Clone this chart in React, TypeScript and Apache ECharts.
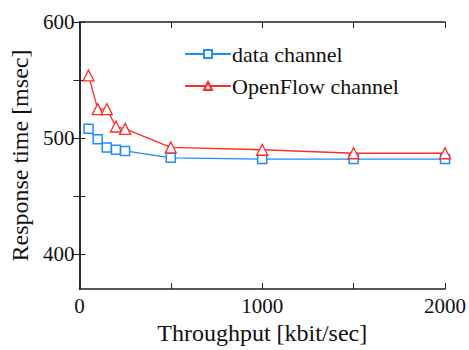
import React, { useEffect, useRef } from "react";
import * as echarts from "echarts";

const throughput = [50, 100, 150, 200, 250, 500, 1000, 1500, 2000];
const dataChannel = [508, 499, 492, 490, 489, 483, 482, 482, 482];
const openflowChannel = [554, 525, 525, 510, 508, 492, 490, 487, 487];
const xTickValues = [0, 500, 1000, 1500, 2000];
const xLabelValues = [0, 1000, 2000];
const yTickValues = [400, 450, 500, 550, 600];
const yLabelValues = [400, 500, 600];

const FONT = "Liberation Serif, Times New Roman, serif";
const AXIS_COLOR = "#222";

export default function App() {
  const ref = useRef<HTMLDivElement>(null);
  useEffect(() => {
    if (!ref.current) return;
    const chart = echarts.init(ref.current, undefined, { renderer: "svg" });
    const axisLine = { show: true, lineStyle: { color: AXIS_COLOR, width: 1.5 } };
    chart.setOption({
      animation: false,
      backgroundColor: "#fff",
      textStyle: { fontFamily: FONT },
      grid: { left: 73, right: 22, top: 22, bottom: 59, containLabel: false },
      legend: {
        orient: "vertical",
        left: 179,
        top: 38,
        itemWidth: 46,
        itemHeight: 10,
        itemGap: 10,
        textStyle: { fontFamily: FONT, fontSize: 22, color: "#111", padding: [0, 0, 0, -4] },
        data: ["data channel", "OpenFlow channel"],
      },
      xAxis: [
        {
          type: "value",
          min: 0,
          max: 2000,
          interval: 500,
          name: "Throughput [kbit/sec]",
          nameLocation: "middle",
          nameGap: 30,
          nameTextStyle: { fontFamily: FONT, fontSize: 24, color: "#111" },
          axisLine,
          splitLine: { show: false },
          axisTick: { show: true, inside: true, length: 6, customValues: xTickValues, lineStyle: { color: AXIS_COLOR } },
          axisLabel: {
            customValues: xLabelValues,
            formatter: (v: number) => String(v),
            fontFamily: FONT,
            fontSize: 21,
            color: "#111",
            margin: 6,
          },
        },
        {
          type: "value",
          position: "top",
          min: 0,
          max: 2000,
          interval: 500,
          axisLine,
          splitLine: { show: false },
          axisTick: { show: true, inside: true, length: 6, lineStyle: { color: AXIS_COLOR } },
          axisLabel: { show: false },
        },
      ],
      yAxis: [
        {
          type: "value",
          min: 370,
          max: 600,
          name: "Response time [msec]",
          nameLocation: "middle",
          nameGap: 42,
          nameTextStyle: { fontFamily: FONT, fontSize: 24, color: "#111" },
          axisLine,
          splitLine: { show: false },
          axisTick: { show: true, inside: true, length: 6, customValues: yTickValues, lineStyle: { color: AXIS_COLOR } },
          axisLabel: {
            customValues: yLabelValues,
            formatter: (v: number) => String(v),
            fontFamily: FONT,
            fontSize: 21,
            color: "#111",
            margin: 5,
          },
        },
        {
          type: "value",
          position: "right",
          min: 370,
          max: 600,
          axisLine,
          splitLine: { show: false },
          axisTick: { show: true, inside: true, length: 6, customValues: yTickValues, lineStyle: { color: AXIS_COLOR } },
          axisLabel: { show: false },
        },
      ],
      series: [
        {
          name: "data channel",
          type: "line",
          data: throughput.map((x, i) => [x, dataChannel[i]]),
          symbol: "rect",
          symbolSize: 9,
          itemStyle: { color: "#fff", borderColor: "#1e8cff", borderWidth: 1.5 },
          lineStyle: { color: "#1e8cff", width: 1.3 },
        },
        {
          name: "OpenFlow channel",
          type: "line",
          data: throughput.map((x, i) => [x, openflowChannel[i]]),
          symbol: "triangle",
          symbolSize: 11,
          itemStyle: { color: "#fff", borderColor: "#ff2a2a", borderWidth: 1.3 },
          lineStyle: { color: "#ff2a2a", width: 1.3 },
        },
      ],
    });
    return () => chart.dispose();
  }, []);
  return <div ref={ref} style={{ width: 469, height: 350, position: "absolute", left: 0, top: 0 }} />;
}
